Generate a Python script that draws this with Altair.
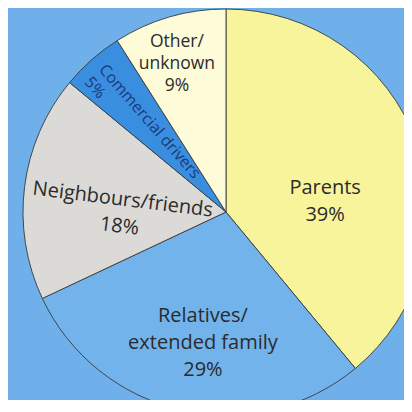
import math
import altair as alt
import pandas as pd

# ---- data ----
categories = ["Parents", "Relatives/extended family", "Neighbours/friends",
              "Commercial drivers", "Other/unknown"]
values = [39, 29, 18, 5, 9]
label_lines = ["Parents\n39%", "Relatives/\nextended family\n29%",
               "Neighbours/friends\n18%", "Commercial drivers\n5%",
               "Other/\nunknown\n9%"]

# ---- layout / style ----
W, H = 396, 392
CX, CY, R = 218, 204, 203
colors = ["#f8f49c", "#72b3ec", "#dcdad6", "#3a8ee0", "#fdfbd8"]
# label placement of the first line: (angle offset from slice middle in deg,
# radius px, rotation deg, group)
label_layout = {
    "Parents": (6.2, 102, 0, "big"),
    "Relatives/extended family": (-0.1, 106.5, 0, "big"),
    "Neighbours/friends": (-0.4, 104, 7, "big"),
    "Commercial drivers": (0.9, 191, 49, "comm"),
    "Other/unknown": (0.1, 177, 0, "other"),
}

total = sum(values)
rows = []
cum = 0
for i, (c, v, t) in enumerate(zip(categories, values, label_lines)):
    mid = (cum + v / 2) / total * 360
    cum += v
    da, rr, rot, grp = label_layout[c]
    a = math.radians(mid + da)
    rows.append({
        "category": c, "value": v, "order": i, "label": t,
        "lx": CX + rr * math.sin(a), "ly": CY - rr * math.cos(a),
        "rot": rot, "grp": grp,
    })
df = pd.DataFrame(rows)

base = alt.Chart(df)

pie = base.mark_arc(outerRadius=R, stroke="#3a3a3a", strokeWidth=0.9).encode(
    theta=alt.Theta("value:Q", stack=True),
    order=alt.Order("order:Q"),
    color=alt.Color("category:N", scale=alt.Scale(domain=categories, range=colors), legend=None),
    x=alt.value(CX),
    y=alt.value(CY),
)

def text_layer(grp, size, lh, color, align="center"):
    return base.transform_filter(alt.datum.grp == grp).mark_text(
        font="Open Sans", fontSize=size, lineHeight=lh, lineBreak="\n",
        align=align, baseline="middle", color=color,
    ).encode(
        x=alt.X("lx:Q", scale=None),
        y=alt.Y("ly:Q", scale=None),
        text="label:N",
        angle=alt.Angle("rot:Q", scale=None),
    )

big = text_layer("big", 20, 27, "#2b2b2b")
other = text_layer("other", 17.5, 22, "#2b2b2b")
comm = text_layer("comm", 16, 19, "#1b3a78", align="left")

chart = alt.layer(pie, big, other, comm).properties(
    width=W, height=H,
    autosize=alt.AutoSizeParams(type="none"),
    padding=0,
    background="#6fb0ea",
).configure_view(stroke=None)

chart.save("out.html", embed_options={"renderer": "svg", "actions": False})
